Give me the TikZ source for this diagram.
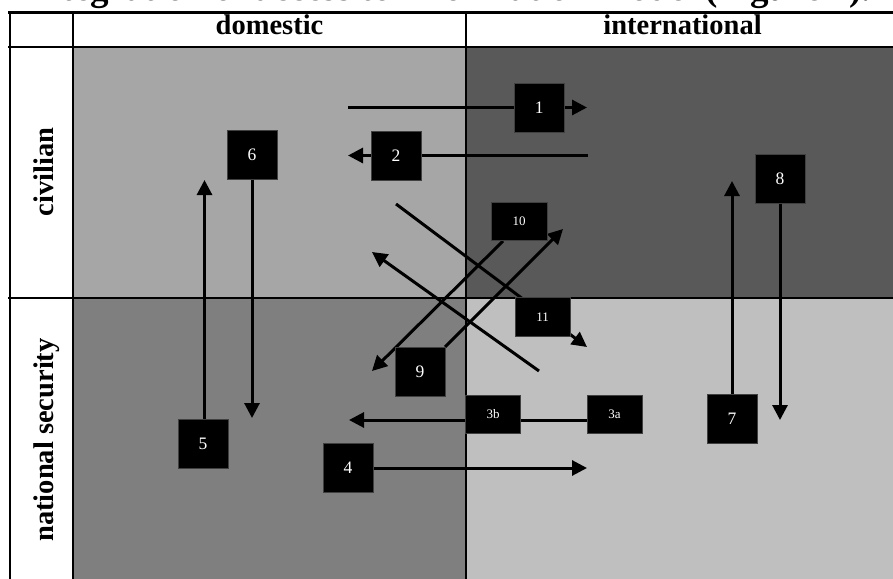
\documentclass[tikz,border=0pt]{standalone}
\usepackage{fontspec}
\setmainfont{Liberation Serif}
\usetikzlibrary{arrows.meta}
\definecolor{qTL}{HTML}{A6A6A6}
\definecolor{qTR}{HTML}{595959}
\definecolor{qBL}{HTML}{7F7F7F}
\definecolor{qBR}{HTML}{BFBFBF}
\begin{document}
\begin{tikzpicture}[x=1pt,y=-1pt,
  arr/.style={line width=3pt,-{Triangle[length=15pt,width=15pt]}},
  numbox/.style={fill=black,draw=black!75,line width=0.6pt,text=white,
    minimum width=50pt,minimum height=49pt,inner sep=0pt,
    font=\fontsize{17.5}{17.5}\selectfont},
  smallbox/.style={numbox,minimum width=55pt,minimum height=38pt,
    font=\fontsize{13}{13}\selectfont},
  gridline/.style={line width=2.5pt},
  head/.style={font=\bfseries\fontsize{28.5}{30}\selectfont,inner sep=0pt,anchor=base}]
\useasboundingbox (0,0) rectangle (893,578);
\clip (0,0) rectangle (893,578);
\fill[white] (0,0) rectangle (893,578);
% caption (cut off at top)
\node[font=\bfseries\fontsize{37}{40}\selectfont,inner sep=0pt,anchor=base east] (caption) at (871,1) {Integration of access to information model (Figure 1).};
% quadrants
\fill[qTL] (73,47) rectangle (466,298);
\fill[qTR] (466,47) rectangle (905,298);
\fill[qBL] (73,298) rectangle (466,590);
\fill[qBR] (466,298) rectangle (905,590);
% grid
\draw[gridline] (8,12.5) -- (905,12.5);
\draw[gridline] (8,47) -- (905,47);
\draw[gridline] (8,298) -- (905,298);
\draw[gridline] (10,12.5) -- (10,590);
\draw[gridline] (73,12.5) -- (73,590);
\draw[gridline] (466,12.5) -- (466,590);
\draw[gridline] (899,12.5) -- (899,590);
% headers
\node[head] (hdom) at (269.5,35) {domestic};
\node[head] (hint) at (682.5,35) {international};
\node[head,rotate=90] (hciv) at (53,172) {civilian};
\node[head,rotate=90] (hnat) at (53,440) {national security};
% connector end points
\coordinate (a1s) at (348,107.5);  \coordinate (a1e) at (587,107.5);
\coordinate (a2s) at (588,155.5);  \coordinate (a2e) at (348,155.5);
\coordinate (a3s) at (587,420);    \coordinate (a3e) at (349,420);
\coordinate (a4s) at (372,468);    \coordinate (a4e) at (587,468);
\coordinate (a5s) at (204.5,420);  \coordinate (a5e) at (204.5,180);
\coordinate (a6s) at (252,180);    \coordinate (a6e) at (252,418);
\coordinate (a7s) at (732,394);    \coordinate (a7e) at (732,181);
\coordinate (a8s) at (780,204);    \coordinate (a8e) at (780,420);
\coordinate (a9s) at (445,347);    \coordinate (a9e) at (563,229);
\coordinate (a10s) at (503,241);   \coordinate (a10e) at (372,371);
\coordinate (a11s) at (396,204);   \coordinate (a11e) at (587,347);
\coordinate (axs) at (539,371);    \coordinate (axe) at (372,252);
% connectors
\draw[arr] (a1s) -- (a1e);
\draw[arr] (a2s) -- (a2e);
\draw[arr] (a3s) -- (a3e);
\draw[arr] (a4s) -- (a4e);
\draw[arr] (a5s) -- (a5e);
\draw[arr] (a6s) -- (a6e);
\draw[arr] (a7s) -- (a7e);
\draw[arr] (a8s) -- (a8e);
\draw[arr] (a9s) -- (a9e);
\draw[arr] (a10s) -- (a10e);
\draw[arr] (a11s) -- (a11e);
\draw[arr] (axs) -- (axe);
% boxes
\node[numbox] (b1) at (539.3,107.5) {1};
\node[numbox] (b2) at (396,155.5) {2};
\node[smallbox] (b3b) at (493,414.5) {3b};
\node[smallbox] (b3a) at (614.5,414.5) {3a};
\node[numbox] (b4) at (348,467.5) {4};
\node[numbox] (b5) at (203,444) {5};
\node[numbox] (b6) at (252,155) {6};
\node[numbox] (b7) at (732,419) {7};
\node[numbox] (b8) at (780,179) {8};
\node[numbox] (b9) at (420,372) {9};
\node[smallbox,minimum width=56pt] (b10) at (519,221.5) {10};
\node[smallbox,minimum height=39pt] (b11) at (542.5,317) {11};
\end{tikzpicture}
\end{document}
